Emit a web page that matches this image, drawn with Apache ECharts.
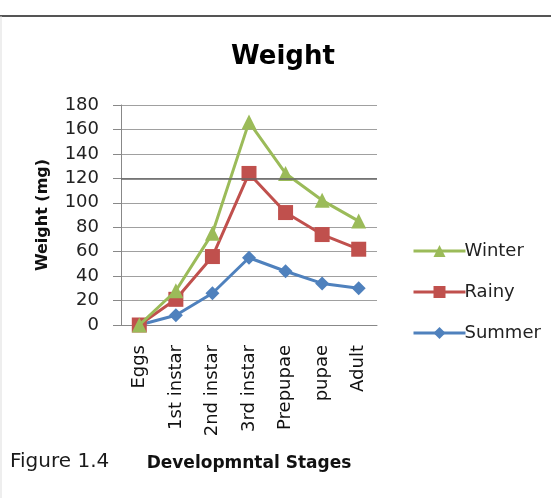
<!DOCTYPE html>
<html><head><meta charset="utf-8">
<script src="https://cdn.jsdelivr.net/npm/echarts@6/dist/echarts.min.js"></script>
<style>html,body{margin:0;padding:0;background:#fff}#c{width:551px;height:498px}</style>
</head><body><div id="c"></div>
<script>
const categories = ['Eggs','1st instar','2nd instar','3rd instar','Prepupae','pupae','Adult'];
const winter = [0, 28, 75, 166, 124, 102, 85];
const rainy = [0, 21, 56, 124, 92, 74, 62];
const summer = [0, 8, 26, 55, 44, 34, 30];
const yTicks = [0,20,40,60,80,100,120,140,160,180];

const F = 'DejaVu Sans';
const chart = echarts.init(document.getElementById('c'));
chart.setOption({
  animation:false,
  textStyle:{fontFamily:F},
  title:{text:'Weight', left:278, top:39, textAlign:'center',
    textStyle:{fontFamily:F, fontSize:26, fontWeight:'bold', color:'#000'}},
  grid:{left:121, right:174, top:105, bottom:173},
  legend:{orient:'vertical', left:407, top:237, itemGap:23, itemWidth:52, itemHeight:15,
    lineStyle:{width:3},
    textStyle:{fontFamily:F, fontSize:18, color:'#222', padding:[0,0,0,-6]},
    data:['Winter','Rainy','Summer']},
  xAxis:{type:'category', data:categories, boundaryGap:true,
    axisLine:{lineStyle:{color:'#888'}}, axisTick:{show:false},
    axisLabel:{rotate:90, fontSize:18, color:'#111', margin:20, fontFamily:F},
    name:'Developmntal Stages', nameLocation:'middle', nameGap:130,
    nameTextStyle:{fontFamily:F, fontWeight:'bold', fontSize:17, color:'#111'}},
  yAxis:{type:'value', min:0, max:180, interval:20,
    axisLine:{show:true, lineStyle:{color:'#888'}},
    axisTick:{show:true, length:8, lineStyle:{color:'#888'}},
    splitLine:{lineStyle:{color:'#a0a0a0', width:1}},
    axisLabel:{fontSize:18, color:'#222', margin:22, fontFamily:F,
      formatter:v=>yTicks.includes(v)?String(v):''},
    name:'Weight (mg)', nameLocation:'middle', nameGap:70, nameRotate:90,
    nameTextStyle:{fontFamily:F, fontWeight:'bold', fontSize:16, color:'#111'}},
  series:[
    {name:'Summer', type:'line', data:summer, symbol:'diamond', symbolSize:14,
      lineStyle:{width:3, color:'#4F81BD'}, itemStyle:{color:'#4F81BD'}, z:2,
      markLine:{silent:true, symbol:'none', label:{show:false},
        lineStyle:{color:'#666', width:1.5, type:'solid'}, data:[{yAxis:120}]}},
    {name:'Rainy', type:'line', data:rainy, symbol:'rect', symbolSize:15,
      lineStyle:{width:3, color:'#C0504D'}, itemStyle:{color:'#C0504D'}, z:3},
    {name:'Winter', type:'line', data:winter, symbol:'triangle', symbolSize:15,
      lineStyle:{width:3, color:'#9BBB59'}, itemStyle:{color:'#9BBB59'}, z:4}
  ],
  graphic:[
    {type:'line', shape:{x1:0,y1:16,x2:551,y2:16}, style:{stroke:'#555', lineWidth:2}},
    {type:'line', shape:{x1:1,y1:16,x2:1,y2:498}, style:{stroke:'#ddd', lineWidth:1}},
    {type:'text', left:10, top:452, style:{text:'Figure 1.4', fontFamily:F, fontSize:20, fill:'#1a1a1a'}}
  ]
});
</script></body></html>
